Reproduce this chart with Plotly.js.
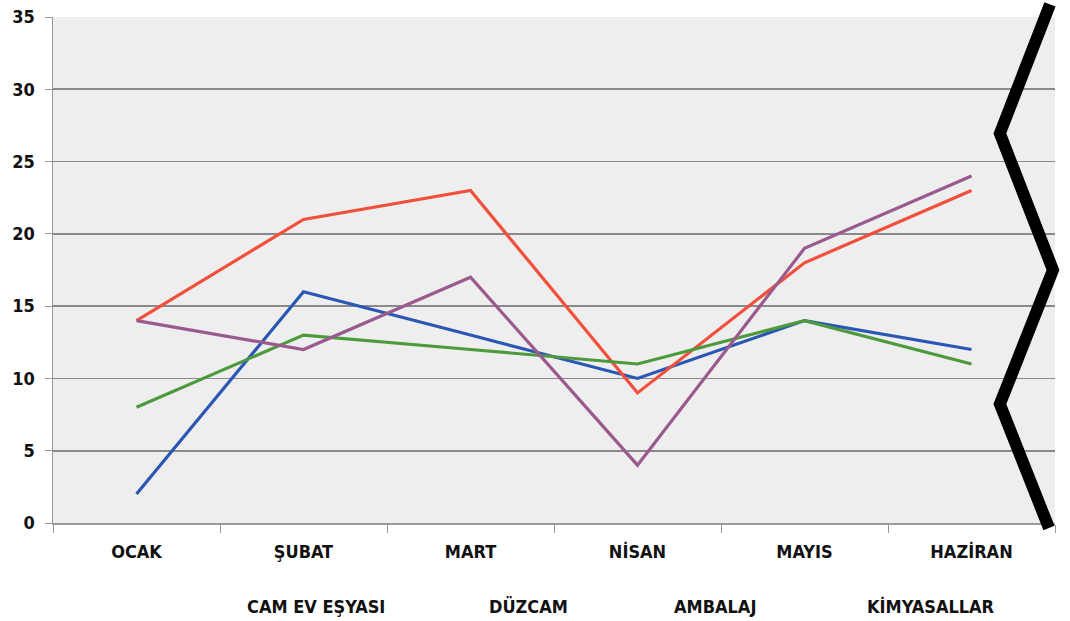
<!DOCTYPE html>
<html><head><meta charset="utf-8">
<script src="https://cdn.plot.ly/plotly-3.0.1.min.js"></script>
<style>html,body{margin:0;padding:0;background:#fff}#chart{width:1070px;height:621px}</style>
</head><body><div id="chart"></div>
<script>
const months = ["OCAK","ŞUBAT","MART","NİSAN","MAYIS","HAZİRAN"];
const seriesNames = ["CAM EV EŞYASI","DÜZCAM","AMBALAJ","KİMYASALLAR"];
const camEvEsyasi = [2,16,13,10,14,12];
const duzcam = [14,21,23,9,18,23];
const ambalaj = [8,13,12,11,14,11];
const kimyasallar = [14,12,17,4,19,24];
const yTicks = [0,5,10,15,20,25,30,35];

const colors = ["#2a56b4","#f0503c","#4c9a3c","#9a5a8e"];
const values = [camEvEsyasi,duzcam,ambalaj,kimyasallar];
const FONT = '"DejaVu Sans Condensed","Liberation Sans Narrow",Arial,sans-serif';

const traces = values.map((v,i)=>({
  x: months, y: v, type:'scatter', mode:'lines', name: seriesNames[i],
  line:{color:colors[i], width:3.2}, showlegend:false
}));

const legendX = [0.262, 0.475, 0.661, 0.876];
const annotations = seriesNames.map((n,i)=>({
  text:'<b>'+n+'</b>', xref:'paper', yref:'paper', x:legendX[i], y:-0.166,
  xanchor:'center', yanchor:'middle', showarrow:false,
  font:{family:FONT, size:18, color:'#111'}
}));

const layout = {
  width:1070, height:621,
  margin:{l:53, r:15, t:17, b:98},
  paper_bgcolor:'#ffffff', plot_bgcolor:'#eeeeee',
  font:{family:FONT, size:18, color:'#111'},
  xaxis:{
    type:'category', tickson:'boundaries', ticks:'outside', ticklen:8, tickcolor:'#999',
    showline:true, linecolor:'#999', linewidth:1.5, showgrid:false,
    tickfont:{family:FONT, size:18, color:'#111', weight:'bold'},
    ticklabelstandoff:12, range:[-0.5,5.5]
  },
  yaxis:{
    range:[0,35], tickvals:yTicks, ticks:'outside', ticklen:7, tickcolor:'#999',
    showline:true, linecolor:'#999', linewidth:1.5,
    showgrid:true, gridcolor:'#8a8a8a', gridwidth:1.8, zeroline:false,
    tickfont:{family:FONT, size:18, color:'#111', weight:'bold'}, ticklabelstandoff:6
  },
  annotations: annotations,
  shapes:[{
    type:'path', xref:'paper', yref:'paper',
    path:'M 0.995 1.025 L 0.945 0.77 L 0.998 0.5 L 0.945 0.235 L 0.994 -0.01',
    line:{color:'#000', width:12}
  }]
};
Plotly.newPlot('chart', traces, layout, {displayModeBar:false, staticPlot:true});
</script></body></html>
